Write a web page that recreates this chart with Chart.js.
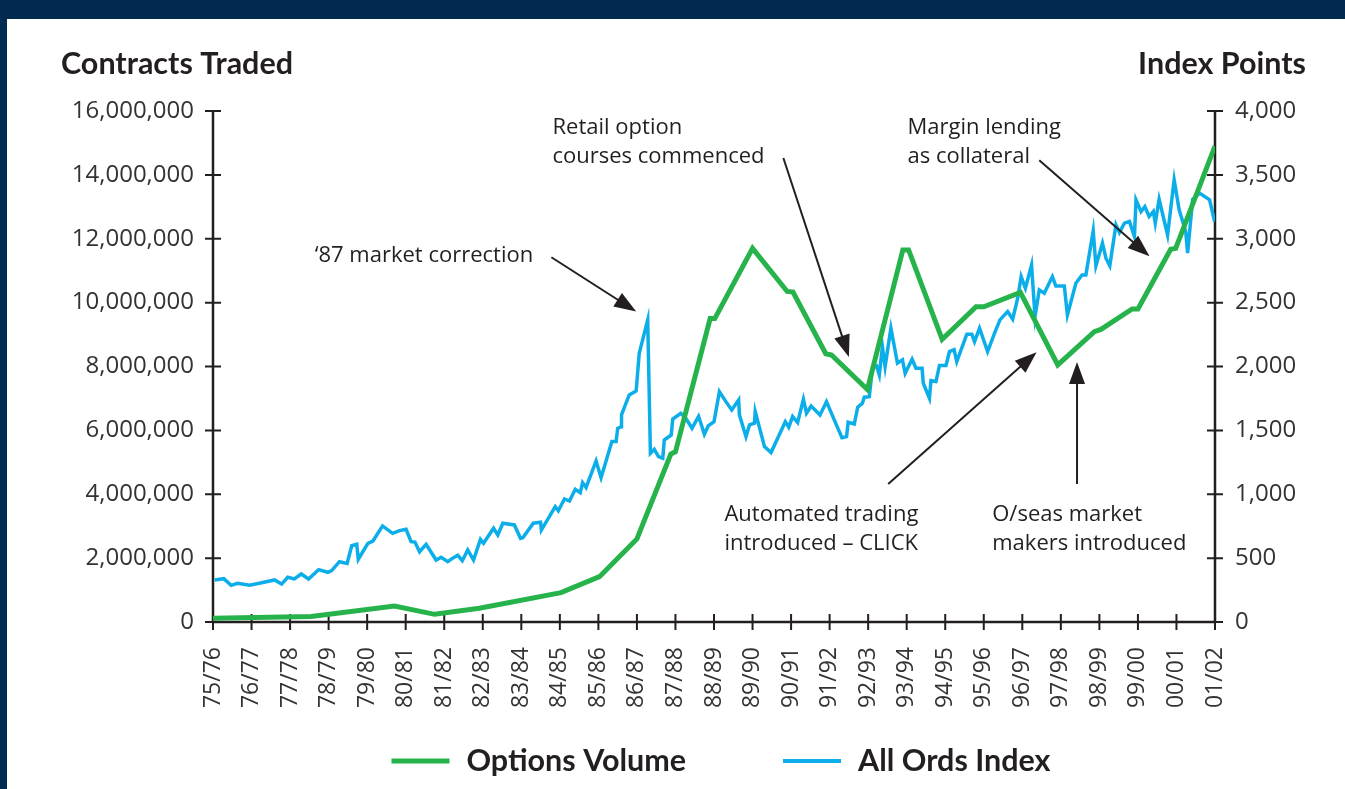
<!DOCTYPE html>
<html>
<head>
<meta charset="utf-8">
<title>Options Volume and All Ords Index</title>
<script src="https://cdn.jsdelivr.net/npm/chart.js@4.4.1/dist/chart.umd.min.js"></script>
<style>
  html, body { margin: 0; padding: 0; }
  body { width: 1345px; height: 789px; background: #002a50; position: relative; overflow: hidden; }
  .panel { position: absolute; left: 7px; top: 19px; right: 0; bottom: 0; background: #fff; }
  canvas { position: absolute; left: 0; top: 0; }
</style>
</head>
<body>
<div class="panel"></div>
<canvas id="optionsChart" width="1345" height="789"></canvas>
<script>
// financial years on the x axis (tick i = years[i])
const years = ['75/76', '76/77', '77/78', '78/79', '79/80', '80/81', '81/82', '82/83', '83/84',
  '84/85', '85/86', '86/87', '87/88', '88/89', '89/90', '90/91', '91/92', '92/93', '93/94',
  '94/95', '95/96', '96/97', '97/98', '98/99', '99/00', '00/01', '01/02'];

// Options Volume - contracts traded (left axis), position in years from 75/76
const volumeX = [0, 2.55, 4.71, 5.75, 6.91, 9.03, 10.03, 11.0, 11.88, 12.0, 12.9, 13.02, 14.0,
  14.9, 15.05, 15.9, 16.05, 16.98, 17.9, 18.05, 18.92, 19.8, 20.0, 20.95, 21.92, 22.87, 23.04,
  23.85, 24.0, 24.85, 24.98, 26.0];
const volume = [120000, 170000, 500000, 240000, 430000, 920000, 1420000, 2600000, 5260000, 5330000,
  9500000, 9500000, 11700000, 10350000, 10330000, 8400000, 8360000, 7280000, 11650000, 11650000,
  8850000, 9870000, 9870000, 10320000, 8050000, 9090000, 9160000, 9800000, 9800000, 11670000,
  11700000, 14900000];

// All Ords Index - index points (right axis)
const indexX = [0.04, 0.28, 0.47, 0.64, 0.95, 1.2, 1.6, 1.78, 1.94, 2.11, 2.29, 2.48, 2.74, 2.98,
  3.08, 3.28, 3.48, 3.6, 3.73, 3.77, 4.02, 4.15, 4.4, 4.66, 4.84, 5.01, 5.14, 5.24, 5.36, 5.53,
  5.79, 5.92, 6.09, 6.22, 6.35, 6.47, 6.61, 6.76, 6.94, 7.02, 7.28, 7.39, 7.52, 7.82, 7.98, 8.04,
  8.31, 8.5, 8.52, 8.88, 8.96, 9.12, 9.25, 9.4, 9.53, 9.59, 9.68, 9.94, 10.07, 10.35, 10.46, 10.5,
  10.59, 10.6, 10.8, 10.98, 11.06, 11.28, 11.35, 11.45, 11.56, 11.67, 11.71, 11.89, 11.93, 12.14,
  12.27, 12.43, 12.6, 12.75, 12.85, 13.0, 13.14, 13.31, 13.46, 13.64, 13.66, 13.83, 13.92, 14.05,
  14.07, 14.31, 14.48, 14.85, 14.94, 15.04, 15.17, 15.32, 15.4, 15.52, 15.75, 15.92, 16.12, 16.32,
  16.44, 16.48, 16.64, 16.73, 16.85, 16.9, 17.03, 17.11, 17.22, 17.29, 17.37, 17.44, 17.59, 17.76,
  17.89, 17.96, 18.14, 18.24, 18.4, 18.43, 18.59, 18.63, 18.76, 18.85, 19.02, 19.11, 19.23, 19.3,
  19.56, 19.69, 19.76, 19.89, 20.1, 20.28, 20.42, 20.62, 20.75, 20.88, 20.97, 21.08, 21.24, 21.33,
  21.44, 21.57, 21.78, 21.87, 22.09, 22.17, 22.39, 22.55, 22.65, 22.84, 22.91, 23.08, 23.17, 23.27,
  23.43, 23.52, 23.65, 23.78, 23.91, 23.95, 24.08, 24.18, 24.29, 24.4, 24.45, 24.55, 24.77, 24.94,
  25.07, 25.24, 25.29, 25.42, 25.6, 25.86, 25.99];
const indexPts = [329, 339, 287, 303, 287, 303, 329, 297, 350, 337, 376, 337, 410, 389,
  402, 472, 459, 597, 608, 491, 616, 634, 752, 694, 715, 726, 629, 626, 550, 608,
  485, 507, 472, 500, 522, 480, 564, 485, 647, 616, 734, 681, 773, 760, 655, 660,
  773, 781, 720, 903, 871, 963, 947, 1039, 1012, 1091, 1052, 1261, 1130, 1412, 1412, 1516,
  1529, 1621, 1777, 1809, 2104, 2365, 1321, 1352, 1294, 1282, 1425, 1464, 1589, 1634,
  1595, 1517, 1610, 1470, 1535, 1568, 1803, 1725, 1660, 1738, 1621, 1451, 1543, 1556,
  1647, 1373, 1326, 1568, 1525, 1608, 1561, 1744, 1634, 1691, 1621, 1725, 1582, 1443,
  1451, 1564, 1550, 1681, 1712, 1760, 1764, 1986, 2004, 1934, 2156, 1999, 2300, 2026,
  2052, 1947, 2057, 1986, 1986, 1869, 1752, 1889, 1882, 2008, 2008, 2117, 2132, 2038,
  2253, 2253, 2195, 2300, 2117, 2261, 2365, 2430, 2370, 2535, 2704, 2613, 2795, 2391,
  2600, 2574, 2704, 2631, 2631, 2404, 2652, 2717, 2717, 3062, 2788, 2965, 2848, 2788,
  3109, 3048, 3122, 3135, 3017, 3304, 3213, 3252, 3174, 3213, 3122, 3309, 3030, 3461,
  3226, 3056, 2887, 3309, 3357, 3304, 3135];

const INK = '#231f20';
const GREEN = '#27b34b';
const BLUE = '#0caeea';
const X_FONT = { family: 'Open Sans', size: 23 };
const Y_FONT = { family: 'Open Sans', size: 24 };
const HEAD_FONT = 'bold 30.5px Lato';

const withCommas = v => String(v).replace(/\B(?=(\d{3})+(?!\d))/g, ',');

// annotation texts with arrows, placed in data units (x = years, y = contracts)
const notes = [
  { lines: ['\u201887 market correction'], at: [2.64, 11.46e6], from: [8.78, 11.42e6], to: [10.98, 9.72e6] },
  { lines: ['Retail option', 'courses commenced'], at: [8.81, 15.47e6], from: [14.8, 14.53e6], to: [16.5, 8.3e6] },
  { lines: ['Margin lending', 'as collateral'], at: [18.02, 15.47e6], from: [21.44, 14.46e6], to: [24.3, 11.45e6] },
  { lines: ['Automated trading', 'introduced \u2013 CLICK'], at: [13.27, 3.35e6], from: [17.52, 4.32e6], to: [21.37, 8.45e6] },
  { lines: ['O/seas market', 'makers introduced'], at: [20.22, 3.35e6], from: [22.42, 4.32e6], to: [22.42, 8.14e6] }
];

// axis lines with ticks that cross the axis
const crossAxes = {
  id: 'crossAxes',
  beforeDatasetsDraw(chart) {
    const { ctx, chartArea: a, scales } = chart;
    ctx.save();
    ctx.strokeStyle = INK;
    ctx.lineWidth = 2.5;
    ctx.beginPath();
    ctx.moveTo(a.left, scales.y.getPixelForValue(16e6)); ctx.lineTo(a.left, a.bottom);
    ctx.moveTo(a.right, scales.y1.getPixelForValue(4000)); ctx.lineTo(a.right, a.bottom);
    ctx.moveTo(a.left, a.bottom); ctx.lineTo(a.right, a.bottom);
    ctx.stroke();
    ctx.lineWidth = 2;
    ctx.beginPath();
    scales.y.ticks.forEach(t => {
      const py = scales.y.getPixelForValue(t.value);
      ctx.moveTo(a.left - 8, py); ctx.lineTo(a.left + 8, py);
    });
    scales.y1.ticks.forEach(t => {
      const py = scales.y1.getPixelForValue(t.value);
      ctx.moveTo(a.right - 8, py); ctx.lineTo(a.right + 8, py);
    });
    scales.x.ticks.forEach(t => {
      const px = scales.x.getPixelForValue(t.value);
      ctx.moveTo(px, a.bottom - 8); ctx.lineTo(px, a.bottom + 8);
    });
    ctx.stroke();
    ctx.restore();
  }
};

// axis headings, notes and the legend
const extras = {
  id: 'extras',
  afterDraw(chart) {
    const { ctx, chartArea: a, scales } = chart;
    const px = v => scales.x.getPixelForValue(v);
    const py = v => scales.y.getPixelForValue(v);
    ctx.save();
    ctx.fillStyle = INK;
    ctx.strokeStyle = INK;

    ctx.font = HEAD_FONT;
    ctx.textBaseline = 'alphabetic';
    ctx.textAlign = 'left';
    ctx.fillText('Contracts Traded', 61, 74);
    ctx.textAlign = 'right';
    ctx.fillText('Index Points', 1306, 74);

    ctx.font = '22px "Open Sans"';
    ctx.textAlign = 'left';
    ctx.textBaseline = 'middle';
    notes.forEach(n => {
      const tx = px(n.at[0]);
      const ty = py(n.at[1]);
      n.lines.forEach((line, i) => ctx.fillText(line, tx, ty + i * 29));
      const x0 = px(n.from[0]), y0 = py(n.from[1]);
      const x1 = px(n.to[0]), y1 = py(n.to[1]);
      const ang = Math.atan2(y1 - y0, x1 - x0);
      const len = 22, half = 8;
      ctx.lineWidth = 2;
      ctx.beginPath();
      ctx.moveTo(x0, y0);
      ctx.lineTo(x1 - Math.cos(ang) * (len - 2), y1 - Math.sin(ang) * (len - 2));
      ctx.stroke();
      ctx.beginPath();
      ctx.moveTo(x1, y1);
      ctx.lineTo(x1 - Math.cos(ang) * len - Math.sin(ang) * half, y1 - Math.sin(ang) * len + Math.cos(ang) * half);
      ctx.lineTo(x1 - Math.cos(ang) * len + Math.sin(ang) * half, y1 - Math.sin(ang) * len - Math.cos(ang) * half);
      ctx.closePath();
      ctx.fill();
    });

    // legend
    ctx.font = HEAD_FONT;
    const sets = chart.data.datasets;
    const lineLen = 58, gapText = 17, gapItem = 97;
    const widths = sets.map(d => lineLen + gapText + ctx.measureText(d.label).width);
    const total = widths.reduce((s, w) => s + w, 0) + gapItem * (sets.length - 1);
    let x = (a.left + a.right) / 2 + 7 - total / 2;
    const ly = 761;
    sets.forEach((d, i) => {
      ctx.strokeStyle = d.borderColor;
      ctx.lineWidth = i === 0 ? 5 : 4;
      ctx.beginPath();
      ctx.moveTo(x, ly); ctx.lineTo(x + lineLen, ly);
      ctx.stroke();
      ctx.fillStyle = INK;
      ctx.fillText(d.label, x + lineLen + gapText, ly);
      x += widths[i] + gapItem;
    });
    ctx.restore();
  }
};

new Chart(document.getElementById('optionsChart'), {
  type: 'line',
  data: {
    datasets: [{
      label: 'Options Volume',
      data: volumeX.map((x, i) => ({ x: x, y: volume[i] })),
      yAxisID: 'y',
      borderColor: GREEN,
      backgroundColor: GREEN,
      borderWidth: 5,
      pointRadius: 0,
      borderJoinStyle: 'miter'
    }, {
      label: 'All Ords Index',
      data: indexX.map((x, i) => ({ x: x, y: indexPts[i] })),
      yAxisID: 'y1',
      borderColor: BLUE,
      backgroundColor: BLUE,
      borderWidth: 3.5,
      pointRadius: 0,
      borderJoinStyle: 'miter'
    }]
  },
  options: {
    responsive: false,
    animation: false,
    layout: { padding: { top: 111, left: 0, right: 0, bottom: 0 } },
    plugins: { legend: { display: false }, tooltip: { enabled: false } },
    scales: {
      x: {
        type: 'linear',
        min: 0,
        max: years.length - 1,
        grid: { display: false, drawTicks: false },
        border: { display: false },
        ticks: {
          stepSize: 1,
          autoSkip: false,
          minRotation: 90,
          maxRotation: 90,
          padding: 25,
          color: '#333',
          font: X_FONT,
          callback: v => years[v]
        },
        afterFit: s => { s.height = 167; }
      },
      y: {
        position: 'left',
        min: 0,
        max: 16000000,
        grid: { display: false, drawTicks: false },
        border: { display: false },
        ticks: { stepSize: 2000000, padding: 19, color: '#333', font: Y_FONT, callback: withCommas },
        afterFit: s => { s.width = 213; }
      },
      y1: {
        position: 'right',
        min: 0,
        max: 4000,
        grid: { display: false, drawTicks: false },
        border: { display: false },
        ticks: { stepSize: 500, padding: 20, color: '#333', font: Y_FONT, callback: withCommas },
        afterFit: s => { s.width = 130; }
      }
    }
  },
  plugins: [crossAxes, extras]
});
</script>
</body>
</html>
